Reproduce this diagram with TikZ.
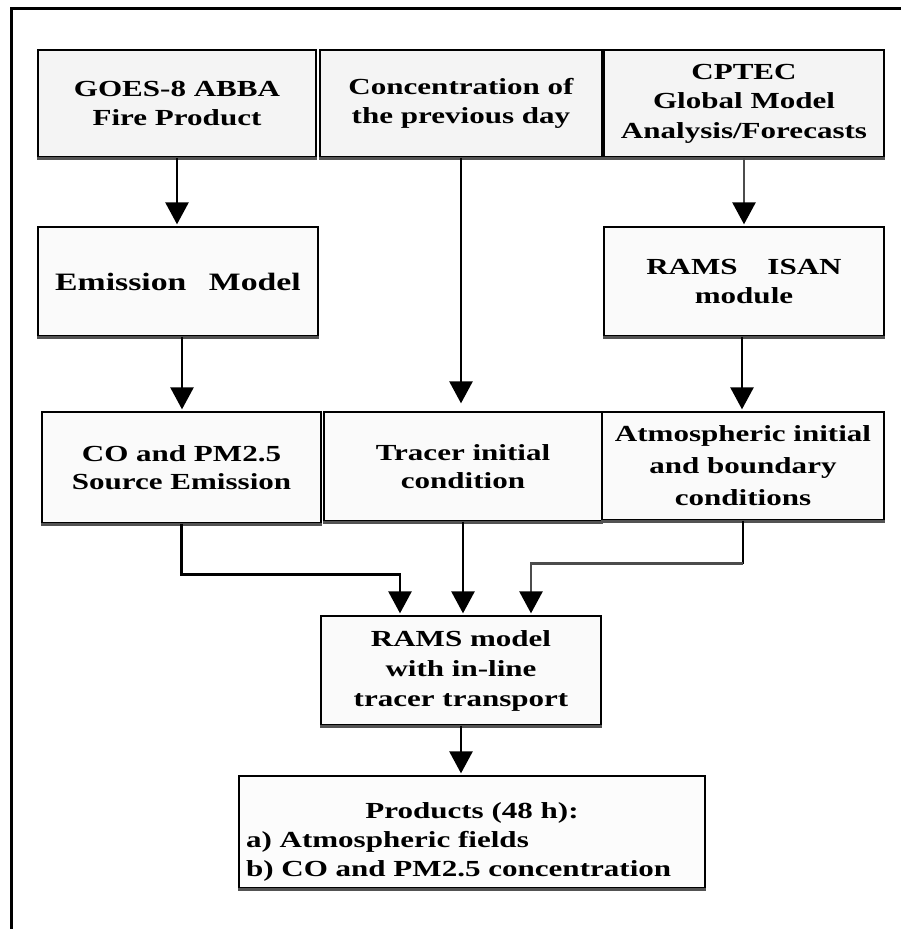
\documentclass[tikz,border=0pt]{standalone}
\usepackage{fontspec}
\newfontfamily\diafont{Liberation Serif}[FakeStretch=1.35]
\usetikzlibrary{arrows.meta,calc}
\begin{document}
\begin{tikzpicture}[x=1pt,y=-1pt,
  box/.style={draw=black, line width=1.3pt, fill=gray!4, align=center, inner sep=0pt,
    font=\diafont\bfseries\fontsize{23}{29}\selectfont, text=black},
  topbox/.style={box, fill=gray!9},
  arr/.style={line width=2.6pt, -{Triangle[width=23pt,length=22pt,color=black]}, shorten >=2pt},
  grayline/.style={draw=gray!60!black}
]
\useasboundingbox (0,0) rectangle (901,929);
\draw[line width=3pt] (901,8) -- (11,8) -- (11,929);

% top row
\node[topbox, minimum width=278pt, minimum height=107pt] (goes) at (177,103.5) {GOES-8 ABBA\\Fire Product};
\node[topbox, minimum width=282pt, minimum height=107pt] (conc) at (461,103.5) {Concentration of\\the previous day};
\node[topbox, minimum width=280pt, minimum height=107pt, font=\diafont\bfseries\fontsize{23}{29.5}\selectfont] (cptec) at (744,103.5) {CPTEC\\Global Model\\Analysis/Forecasts};

% second row
\node[box, minimum width=280pt, minimum height=109pt, font=\diafont\bfseries\fontsize{25}{30}\selectfont] (emis) at (178,281.5) {Emission\hspace{14pt} Model};
\node[box, minimum width=280pt, minimum height=109pt] (isan) at (744,281.5) {RAMS\hspace{22pt} ISAN\\module};

% third row
\node[box, minimum width=279pt, minimum height=111pt, font=\diafont\bfseries\fontsize{23}{28}\selectfont] (co) at (181.5,467.5) {CO and PM2.5\\Source Emission};
\node[box, minimum width=278pt, minimum height=109pt, font=\diafont\bfseries\fontsize{23}{28}\selectfont] (tracer) at (463,466.5) {Tracer initial\\condition};
\node[box, minimum width=282pt, minimum height=108pt, font=\diafont\bfseries\fontsize{23}{32}\selectfont] (atmos) at (743,466) {Atmospheric initial\\and boundary\\conditions};

% model
\node[box, minimum width=280pt, minimum height=109pt, font=\diafont\bfseries\fontsize{23}{30}\selectfont] (rams) at (461,670.5) {RAMS model\\with in-line\\tracer transport};

% products
\node[box, fill=gray!2, minimum width=466pt, minimum height=112pt] (prod) at (472,832)
  {\parbox{452pt}{\vspace*{20pt}\centering Products (48 h):\par\raggedright a) Atmospheric fields\par b) CO and PM2.5 concentration}};

% shadows on bottom edges
\foreach \n in {goes,conc,cptec,emis,isan,co,tracer,atmos,rams,prod}
  \draw[gray!65!black, line width=2.2pt] ($(\n.south west)+(0,0.8)$) -- ($(\n.south east)+(0,0.8)$);

% connectors
\draw[arr] (goes.south) -- (goes.south |- emis.north);
\draw[arr] ([xshift=4pt]emis.south) -- ([xshift=4pt]emis.south |- co.north);
\draw[arr, shorten >=8pt] (conc.south) -- (conc.south |- tracer.north);
\draw[arr, grayline] (cptec.south) -- (cptec.south |- isan.north);
\draw[arr] ([xshift=-2pt]isan.south) -- ([xshift=-2pt]isan.south |- atmos.north);
\draw[arr] (co.south) -- ++(0,51) -| ([xshift=-61pt]rams.north);
\draw[arr] (tracer.south) -- (tracer.south |- rams.north);
\coordinate (ac) at ($(atmos.south)+(0,43)$);
\draw[line width=2.6pt] (atmos.south) -- (ac);
\draw[arr, grayline] (ac) -| ([xshift=70pt]rams.north);
\draw[arr] (rams.south) -- (rams.south |- prod.north);
\end{tikzpicture}
\end{document}
